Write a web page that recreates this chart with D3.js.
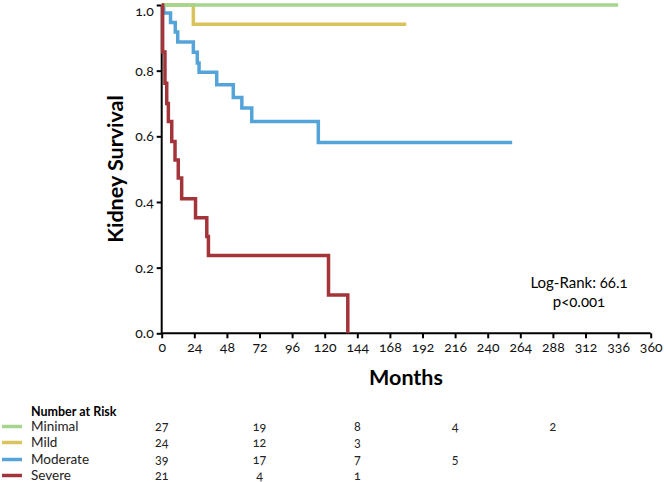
<!DOCTYPE html>
<html><head><meta charset="utf-8">
<script src="https://cdn.jsdelivr.net/npm/d3@7"></script>
<style>
body{margin:0;background:#fff;}
svg text{font-family:Lato,"Noto Sans",sans-serif;font-variant-numeric:oldstyle-nums;font-feature-settings:"onum" 1;}
</style></head><body>
<svg id="c" width="664" height="482"></svg>
<script>
// ---- data ----
const seriesNames = ["Minimal","Mild","Moderate","Severe"];
const seriesColors = ["#a5d58d","#d9c35c","#55a4d9","#a3353a"];
const minimalTimes = [0, 336];
const minimalSurv  = [1.0, 1.0];
const mildTimes = [0, 23.3, 180];
const mildSurv  = [1.0, 0.941, 0.941];
const moderateTimes = [0, 1.5, 6.5, 10, 11.8, 23.3, 26.2, 27.5, 40.5, 52.7, 59, 66.3, 115.3, 258];
const moderateSurv  = [1.0, 0.976, 0.947, 0.918, 0.887, 0.856, 0.823, 0.795, 0.757, 0.718, 0.686, 0.645, 0.581, 0.581];
const severeTimes = [0, 0.7, 2.4, 3.7, 4.9, 7.4, 9.8, 12.2, 14.7, 24.9, 33.2, 34.4, 122.8, 137];
const severeSurv  = [1.0, 0.857, 0.762, 0.70, 0.645, 0.584, 0.528, 0.473, 0.41, 0.352, 0.295, 0.237, 0.117, 0.0];
const xTicks = [0,24,48,72,96,120,144,168,192,216,240,264,288,312,336,360];
const yTicks = [0,0.2,0.4,0.6,0.8,1.0];
const riskTimes = [0, 72, 144, 216, 288];
const riskMinimal = [27, 19, 8, 4, 2];
const riskMild = [24, 12, 3];
const riskModerate = [39, 17, 7, 5];
const riskSevere = [21, 4, 1];

const svg = d3.select("#c");
const x = d3.scaleLinear().domain([0,360]).range([161.7,650.7]);
const y = d3.scaleLinear().domain([0,1]).range([333.3,5]);

// axes
const xAxis = d3.axisBottom(x).tickValues(xTicks).tickSize(5).tickPadding(4).tickFormat(d3.format("d"));
const gx = svg.append("g").attr("transform","translate(0,333.3)").call(xAxis);
const yAxis = d3.axisLeft(y).tickValues(yTicks).tickSize(5).tickPadding(3).tickFormat(d3.format(".1f"));
const gy = svg.append("g").attr("transform","translate(161.7,0)").call(yAxis);
[gx,gy].forEach(g=>{
  g.select(".domain").attr("stroke","#000").attr("stroke-width",2);
  g.selectAll(".tick line").attr("stroke","#000").attr("stroke-width",2);
  g.selectAll(".tick text").attr("fill","#111").attr("font-size",14);
});
gy.selectAll(".tick text").filter(d=>Math.abs(d-1)<1e-9).attr("dy","0.75em");
gy.select(".domain").attr("d","M0,5V333.3");
gx.select(".domain").attr("d","M161.7,0H650.7");

// curves
const line = d3.line().x(d=>x(d[0])).y(d=>y(d[1])).curve(d3.curveStepAfter);
const curves = [
  [moderateTimes, moderateSurv, 2],
  [mildTimes, mildSurv, 1],
  [minimalTimes, minimalSurv, 0],
  [severeTimes, severeSurv, 3]
];
curves.forEach(([t,s,i])=>{
  svg.append("path").datum(t.map((v,k)=>[v,s[k]]))
    .attr("d",line).attr("fill","none")
    .attr("stroke",seriesColors[i]).attr("stroke-width",3.5)
    .attr("stroke-linejoin","miter").attr("stroke-linecap","butt");
});

// titles
svg.append("text").attr("transform","translate(123,169) rotate(-90)")
  .attr("text-anchor","middle").attr("font-size",21.5).attr("font-weight","bold").text("Kidney Survival");
svg.append("text").attr("x",406).attr("y",385)
  .attr("text-anchor","middle").attr("font-size",21.5).attr("font-weight","bold").text("Months");
svg.append("text").attr("x",579).attr("y",288)
  .attr("text-anchor","middle").attr("font-size",15).text("Log-Rank: 66.1");
svg.append("text").attr("x",579).attr("y",307)
  .attr("text-anchor","middle").attr("font-size",15).text("p<0.001");

// risk table
svg.append("text").attr("x",31).attr("y",416).attr("font-size",12.5).attr("font-weight","bold").text("Number at Risk");
const riskRows = [riskMinimal, riskMild, riskModerate, riskSevere];
const rowY = [431, 447, 464, 480];
riskRows.forEach((vals,i)=>{
  svg.append("line").attr("x1",2).attr("x2",22).attr("y1",rowY[i]-4.5).attr("y2",rowY[i]-4.5)
    .attr("stroke",seriesColors[i]).attr("stroke-width",3.5);
  svg.append("text").attr("x",31).attr("y",rowY[i]).attr("font-size",13.5).attr("fill","#222").text(seriesNames[i]);
  vals.forEach((v,k)=>{
    svg.append("text").attr("x",x(riskTimes[k])).attr("y",rowY[i]).attr("text-anchor","middle")
      .attr("font-size",12.5).attr("fill","#222").text(v);
  });
});
</script></body></html>
